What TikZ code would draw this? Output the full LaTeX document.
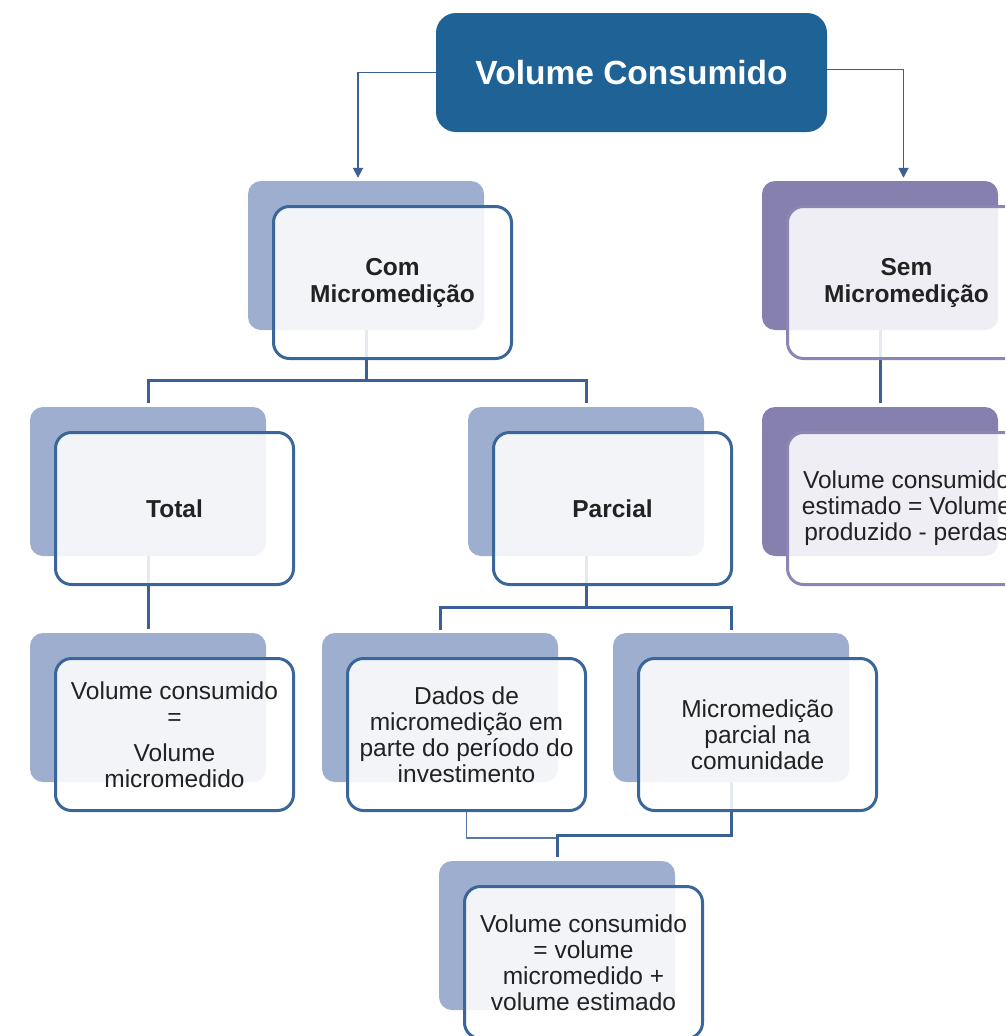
\documentclass[tikz,border=0pt]{standalone}
\usepackage{fontspec}
\setmainfont{Liberation Sans}
\usetikzlibrary{arrows.meta,calc}
\definecolor{titlefill}{HTML}{1F6295}
\definecolor{blueback}{HTML}{9DAECE}
\definecolor{blueline}{HTML}{3A6699}
\definecolor{purpleback}{HTML}{8680AE}
\definecolor{purpleline}{HTML}{8C86B6}
\definecolor{connblue}{HTML}{3A6096}
\definecolor{txt}{HTML}{222222}
\pgfdeclarelayer{bg}
\pgfsetlayers{bg,main}
\tikzset{
  backbox/.style={rectangle, rounded corners=13pt, fill=#1back, minimum width=236pt, minimum height=149pt, inner sep=0pt},
  frontbox/.style={rectangle, rounded corners=16pt, draw=#1line, line width=3pt, fill=white, fill opacity=0.87, text opacity=1, minimum width=238pt, minimum height=152pt, inner sep=0pt, align=center, text=txt, font=\fontsize{24.5}{26}\selectfont},
  headtext/.style={font=\fontsize{24.5}{27}\selectfont\bfseries},
  titlebox/.style={rectangle, rounded corners=20pt, fill=titlefill, minimum width=391pt, minimum height=119pt, inner sep=0pt, text=white, font=\fontsize{33.5}{40}\selectfont\bfseries},
  conn/.style={draw=connblue, line width=3pt},
  thinconn/.style={draw=connblue!85, line width=1.5pt},
  arrowconn/.style={draw=connblue, line width=1.8pt, -{Triangle[width=10pt,length=10pt]}}
}
\newcommand\twobox[6]{%
  \node[backbox=#4] (#1-b) at (#2+118,#3+74.5) {};
  \node[frontbox=#4,#5] (#1-f) at (#2+144.5,#3+101.5) {#6};
}
\begin{document}
\begin{tikzpicture}[x=1pt,y=-1pt]
\useasboundingbox (0,0) rectangle (1005,1036);
\clip (0,0) rectangle (1005,1036);

\node[titlebox] (title) at (631.5,72.5) {Volume Consumido};

\twobox{com}{248}{181}{blue}{headtext}{Com\\Micromedição}
\twobox{sem}{762}{181}{purple}{headtext}{Sem\\Micromedição}
\twobox{tot}{30}{407}{blue}{headtext}{Total}
\twobox{par}{468}{407}{blue}{headtext}{Parcial}
\twobox{semc}{762}{407}{purple}{}{Volume consumido\\estimado = Volume\\produzido - perdas}
\twobox{totc}{30}{633}{blue}{}{Volume consumido\\=\\[10pt]Volume\\micromedido}
\twobox{dad}{322}{633}{blue}{}{Dados de\\micromedição em\\parte do período do\\investimento}
\twobox{mic}{613}{633}{blue}{}{Micromedição\\parcial na\\comunidade}
\twobox{vol}{439}{861}{blue}{}{Volume consumido\\= volume\\micromedido +\\volume estimado}

\begin{pgfonlayer}{bg}
\draw[arrowconn] (title.west) -| ($(com-b.north)+(-8,-3)$);
\draw[arrowconn] ($(title.east)+(0,-3)$) -| ($(sem-f.north |- sem-b.north)+(-3,-3)$);
\draw[conn] (com-b.south) -- ++(0,50) -| ($(tot-b.north)+(0,-4)$);
\draw[conn] (com-b.south) -- ++(0,50) -| ($(par-b.north)+(0,-4)$);
\draw[conn] (sem-b.south) -- ($(semc-b.north)+(0,-4)$);
\draw[conn] (tot-b.south) -- ($(totc-b.north)+(0,-4)$);
\draw[conn] (par-b.south) -- ++(0,51) -| ($(dad-b.north)+(0,-3)$);
\draw[conn] (par-b.south) -- ++(0,51) -| ($(mic-b.north)+(0,-3)$);
\draw[thinconn] (dad-f.south) -- ++(0,26) -| ($(vol-b.north)+(0,-24)$);
\draw[conn] (mic-b.south) -- ++(0,53) -| ($(vol-b.north)+(0,-4)$);
\end{pgfonlayer}
\end{tikzpicture}
\end{document}
